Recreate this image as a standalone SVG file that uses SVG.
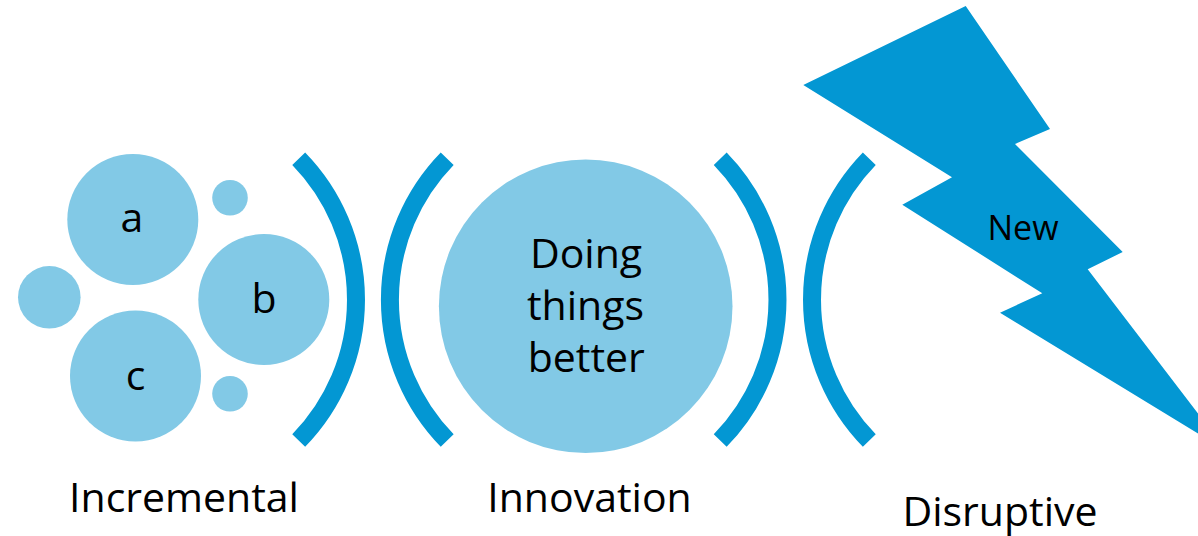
<svg xmlns="http://www.w3.org/2000/svg" width="1198" height="536" viewBox="0 0 1198 536">
<style>
.bubble{fill:#82c9e6}
.arc{fill:none;stroke:#0397d3;stroke-width:18;stroke-linecap:butt}
.bolt{fill:#0397d3}
text{font-family:"Open Sans","Noto Sans","DejaVu Sans",sans-serif;fill:#000;text-anchor:middle}
.lbl{font-size:41px}
.sm{font-size:34px}
</style>
<rect width="1198" height="536" fill="#ffffff"/>
<g id="incremental">
<g id="bubble-a"><circle class="bubble" cx="132.8" cy="219.5" r="65.5"/><text class="lbl" x="132" y="232">a</text></g>
<g id="bubble-b"><circle class="bubble" cx="263.8" cy="299.5" r="65.5"/><text class="lbl" x="264" y="313">b</text></g>
<g id="bubble-c"><circle class="bubble" cx="135.5" cy="376" r="65.5"/><text class="lbl" x="135.5" y="390">c</text></g>
<g id="bubble-small-left"><circle class="bubble" cx="49.3" cy="297.3" r="31.3"/></g>
<g id="bubble-small-top"><circle class="bubble" cx="230" cy="197.8" r="17.8"/></g>
<g id="bubble-small-bottom"><circle class="bubble" cx="230" cy="393.8" r="17.8"/></g>
</g>
<g id="innovation">
<circle class="bubble" cx="585.7" cy="306.3" r="146.8"/>
<text class="lbl" x="586" y="267.7">Doing</text>
<text class="lbl" x="585.5" y="320">things</text>
<text class="lbl" x="586.3" y="371.7">better</text>
</g>
<g id="disruptive">
<path class="bolt" d="M803.3 85 L965.7 6 L1050 129 L1015 144 L1122.7 252 L1087.7 269.3 L1226.6 451 L1000 312.7 L1042.3 293.3 L902.3 204.7 L952 177.3 Z"/>
<text class="sm" x="1023" y="239.5">New</text>
</g>
<g id="connectors">
<path class="arc" d="M298.7 158.8 A201.8 201.8 0 0 1 298.7 440.5"/>
<path class="arc" d="M447.2 158.8 A201.8 201.8 0 0 0 447.2 440.5"/>
<path class="arc" d="M720.2 158.8 A201.8 201.8 0 0 1 720.2 440.5"/>
<path class="arc" d="M869.3 158.8 A201.8 201.8 0 0 0 869.3 440.5"/>
</g>
<g id="labels">
<text class="lbl" x="184" y="512">Incremental</text>
<text class="lbl" x="589.5" y="512">Innovation</text>
<text class="lbl" x="1000" y="526">Disruptive</text>
</g>
</svg>
